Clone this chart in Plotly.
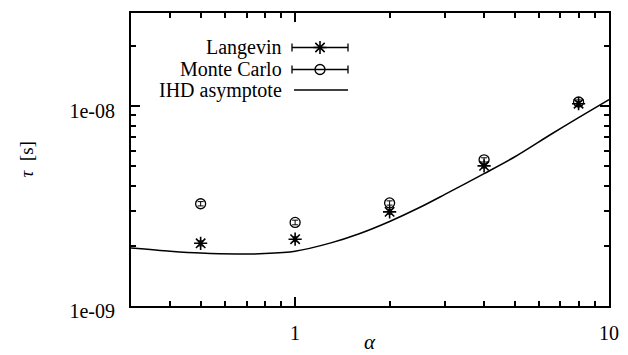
import plotly.graph_objects as go
import math

# ---- data ----
alpha_pts = [0.5, 1, 2, 4, 8]
tau_langevin = [2.06e-9, 2.16e-9, 2.96e-9, 5.03e-9, 1.03e-8]
err_langevin = [0.06e-9, 0.06e-9, 0.08e-9, 0.12e-9, 0.25e-9]
tau_montecarlo = [3.25e-9, 2.62e-9, 3.28e-9, 5.39e-9, 1.05e-8]
err_montecarlo = [0.08e-9, 0.07e-9, 0.08e-9, 0.13e-9, 0.25e-9]

alpha_curve = [0.3, 0.4, 0.5, 0.65, 0.8, 1.0, 1.3, 1.6, 2.0, 2.5, 3.0, 4.0, 5.0, 6.5, 8.0, 10.0]
tau_ihd = [1.95e-9, 1.88e-9, 1.84e-9, 1.82e-9, 1.83e-9, 1.88e-9, 2.07e-9, 2.30e-9,
           2.65e-9, 3.12e-9, 3.62e-9, 4.60e-9, 5.57e-9, 7.20e-9, 8.78e-9, 1.08e-8]

x_tickvals = [1, 10]
x_ticktext = ["1", "10"]
x_minor = [0.3, 0.4, 0.5, 0.6, 0.7, 0.8, 0.9, 2, 3, 4, 5, 6, 7, 8, 9]
y_tickvals = [1e-9, 1e-8]
y_ticktext = ["1e-09", "1e-08"]
y_minor = [2e-9, 3e-9, 4e-9, 5e-9, 6e-9, 7e-9, 8e-9, 9e-9, 2e-8]

legend_names = ["Langevin", "Monte Carlo", "IHD asymptote"]

FONT = "Liberation Serif"
OFF = 8  # page body margin
PLOT_L, PLOT_R, PLOT_T, PLOT_B = 131, 609, 13, 306  # plot area in page pixels
W, H = 628 - OFF, 355 - OFF
L, T = PLOT_L - OFF, PLOT_T - OFF
R, B = OFF + W - PLOT_R, OFF + H - PLOT_B
PW, PH = PLOT_R - PLOT_L, PLOT_B - PLOT_T

fig = go.Figure()

fig.add_trace(go.Scatter(x=alpha_curve, y=tau_ihd, mode="lines",
                         line=dict(color="black", width=1.5, shape="spline", smoothing=0.8),
                         showlegend=False))
fig.add_trace(go.Scatter(x=alpha_pts, y=tau_langevin, mode="markers",
                         marker=dict(symbol="asterisk-open", size=11, color="black",
                                     line=dict(color="black", width=1.6)),
                         error_y=dict(type="data", array=err_langevin, color="black",
                                      thickness=1, width=3),
                         showlegend=False))
fig.add_trace(go.Scatter(x=alpha_pts, y=tau_montecarlo, mode="markers",
                         marker=dict(symbol="circle-open", size=10, color="black",
                                     line=dict(color="black", width=1.3)),
                         error_y=dict(type="data", array=err_montecarlo, color="black",
                                      thickness=1, width=3),
                         showlegend=False))

# ---- key samples (gnuplot-style: text left, sample right) on overlay pixel axes ----
key_x_center = 320 - PLOT_L
key_half = 28
key_rows_y = [47.5 - PLOT_T, 69.5 - PLOT_T, 90 - PLOT_T]
fig.add_trace(go.Scatter(x=[key_x_center], y=[key_rows_y[0]], mode="markers",
                         xaxis="x2", yaxis="y2",
                         marker=dict(symbol="asterisk-open", size=11, color="black",
                                     line=dict(color="black", width=1.6)),
                         error_x=dict(type="data", array=[key_half], color="black",
                                      thickness=1.3, width=4),
                         showlegend=False, hoverinfo="skip"))
fig.add_trace(go.Scatter(x=[key_x_center], y=[key_rows_y[1]], mode="markers",
                         xaxis="x2", yaxis="y2",
                         marker=dict(symbol="circle-open", size=10, color="black",
                                     line=dict(color="black", width=1.3)),
                         error_x=dict(type="data", array=[key_half], color="black",
                                      thickness=1.3, width=4),
                         showlegend=False, hoverinfo="skip"))
fig.add_trace(go.Scatter(x=[key_x_center - key_half + 2, key_x_center + key_half],
                         y=[key_rows_y[2], key_rows_y[2]], mode="lines",
                         xaxis="x2", yaxis="y2",
                         line=dict(color="black", width=1.5),
                         showlegend=False, hoverinfo="skip"))

for name, yy in zip(legend_names, key_rows_y):
    fig.add_annotation(x=(284 - PLOT_L) / PW, y=1 - yy / PH, xref="paper", yref="paper",
                       text=name, showarrow=False, xanchor="right", yanchor="middle",
                       font=dict(family=FONT, size=20, color="black"))

# axis titles
fig.add_annotation(x=(26 - PLOT_L) / PW, y=0.5, xref="paper", yref="paper",
                   text="<i>τ</i>  [s]", textangle=-90, showarrow=False,
                   xanchor="center", yanchor="middle",
                   font=dict(family=FONT, size=19, color="black"))
fig.add_annotation(x=0.5, y=-(342 - PLOT_B) / PH, xref="paper", yref="paper",
                   text="<i>α</i>", showarrow=False, xanchor="center", yanchor="middle",
                   font=dict(family=FONT, size=21, color="black"))

axis_common = dict(showgrid=False, zeroline=False, showline=True, linecolor="black",
                   linewidth=2, mirror="ticks", ticks="inside", tickcolor="black",
                   tickwidth=1.5, ticklen=9,
                   tickfont=dict(family=FONT, size=20, color="black"))

fig.update_layout(
    width=W, height=H,
    margin=dict(l=L, r=R, t=T, b=B, autoexpand=False),
    paper_bgcolor="white", plot_bgcolor="white",
    showlegend=False,
    xaxis=dict(type="log", range=[math.log10(0.3), 1], tickvals=x_tickvals,
               ticktext=x_ticktext, ticklabelstandoff=8,
               minor=dict(tickvals=x_minor, ticks="inside", ticklen=5,
                          tickcolor="black", tickwidth=1.5),
               **axis_common),
    yaxis=dict(type="log", range=[-9, math.log10(2.93e-8)], tickvals=y_tickvals,
               ticktext=y_ticktext, ticklabelstandoff=10, ticklabelshift=5,
               minor=dict(tickvals=y_minor, ticks="inside", ticklen=5,
                          tickcolor="black", tickwidth=1.5),
               **axis_common),
    xaxis2=dict(overlaying="x", range=[0, PW], visible=False, anchor="y2",
                fixedrange=True),
    yaxis2=dict(overlaying="y", range=[PH, 0], visible=False, anchor="x2",
                fixedrange=True),
)

fig.write_html("out.html")
